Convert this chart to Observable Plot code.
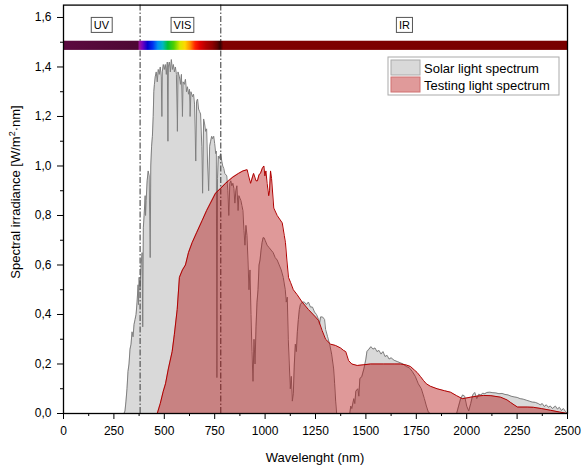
<!DOCTYPE html>
<html>
<head>
<meta charset="utf-8">
<script src="https://cdn.jsdelivr.net/npm/d3@7"></script>
<script src="https://cdn.jsdelivr.net/npm/@observablehq/plot@0.6"></script>
<style>
  html, body { margin: 0; padding: 0; background: #fff; }
  #chart { width: 584px; height: 470px; position: relative; }
</style>
</head>
<body>
<div id="chart"></div>
<script>
// ---- Data ----
const solarNm = [280,300,305,310,315,320,325,330,335,340,345,350,355,360,365,370,372,375,380,385,390,393,396,400,405,407,410,415,420,425,430,433,437,441,445,448,451,455,460,465,470,475,480,485,488,490,495,500,505,510,515,518,520,525,530,535,540,545,550,555,560,565,568,575,580,585,590,593,600,605,610,615,620,625,628,632,640,645,650,656,660,665,670,675,680,686,690,695,700,705,710,715,720,725,730,735,740,745,750,755,758,761,764,768,772,780,785,790,795,800,810,815,820,825,830,835,840,845,850,855,860,866,870,875,880,885,890,895,900,905,910,915,920,925,930,935,940,945,950,955,960,965,970,975,980,985,990,995,1000,1010,1020,1030,1040,1050,1060,1070,1080,1090,1100,1105,1110,1115,1120,1125,1130,1135,1140,1145,1150,1155,1160,1165,1170,1175,1185,1195,1205,1215,1225,1235,1245,1255,1265,1270,1275,1285,1295,1300,1310,1320,1330,1340,1345,1350,1355,1420,1425,1430,1440,1445,1450,1460,1465,1470,1480,1490,1500,1505,1515,1525,1535,1545,1555,1565,1575,1585,1595,1605,1615,1625,1640,1655,1670,1685,1700,1715,1730,1745,1760,1775,1790,1800,1810,1820,1950,1960,1970,1980,1990,2000,2010,2020,2030,2040,2050,2060,2070,2080,2090,2100,2115,2130,2145,2160,2175,2190,2205,2220,2235,2250,2265,2280,2295,2310,2325,2340,2355,2365,2375,2385,2395,2405,2415,2425,2440,2450,2460,2470,2480,2490,2500];
const solarVal = [0,0,0.01,0.05,0.1,0.17,0.2,0.26,0.28,0.33,0.31,0.36,0.38,0.4,0.45,0.52,0.44,0.55,0.5,0.6,0.65,0.35,0.75,0.8,0.88,0.8,0.86,0.94,0.98,0.96,0.63,1.0,1.08,1.12,1.2,1.3,1.33,1.36,1.38,1.34,1.39,1.37,1.40,1.36,1.2,1.38,1.41,1.39,1.41,1.37,1.42,1.10,1.40,1.42,1.38,1.43,1.39,1.41,1.38,1.40,1.37,1.14,1.38,1.36,1.33,1.37,1.2,1.34,1.33,1.35,1.30,1.32,1.29,1.31,1.2,1.30,1.28,1.29,1.25,1.02,1.26,1.27,1.23,1.22,1.21,1.08,0.89,1.19,1.17,1.14,1.15,1.0,0.9,1.08,1.10,1.12,1.11,1.12,1.09,1.05,1.06,0.145,0.95,1.04,1.03,1.05,1.02,1.0,0.99,0.97,0.96,0.9,0.8,0.93,0.94,0.92,0.93,0.91,0.85,0.9,0.92,0.82,0.88,0.87,0.86,0.84,0.82,0.74,0.68,0.76,0.72,0.62,0.5,0.58,0.4,0.25,0.13,0.3,0.2,0.35,0.45,0.5,0.6,0.62,0.66,0.69,0.71,0.71,0.70,0.68,0.67,0.66,0.65,0.63,0.62,0.60,0.58,0.55,0.5,0.45,0.47,0.3,0.2,0.1,0.15,0.05,0.08,0.2,0.28,0.25,0.33,0.38,0.42,0.44,0.45,0.45,0.44,0.45,0.43,0.43,0.41,0.40,0.38,0.36,0.39,0.39,0.38,0.34,0.31,0.28,0.24,0.18,0.12,0.05,0,0,0.03,0.02,0.06,0.04,0.09,0.1,0.07,0.14,0.15,0.18,0.22,0.25,0.26,0.27,0.26,0.265,0.25,0.255,0.24,0.25,0.23,0.235,0.22,0.225,0.215,0.21,0.205,0.2,0.19,0.185,0.17,0.15,0.12,0.1,0.06,0.03,0.005,0,0,0.03,0.06,0.075,0.07,0.03,0.01,0.04,0.075,0.085,0.06,0.078,0.075,0.082,0.08,0.085,0.086,0.084,0.083,0.08,0.081,0.077,0.075,0.07,0.067,0.065,0.06,0.058,0.054,0.05,0.046,0.045,0.04,0.035,0.04,0.028,0.035,0.025,0.03,0.02,0.03,0.018,0.025,0.012,0.02,0.008,0];

const testNm = [465,480,495,506,520,539,550,564,575,590,605,620,638,660,688,710,729,754,780,804,818,840,868,890,911,918,928,943,955,962,970,977,986,994,999,1004,1010,1018,1022,1027,1032,1043,1060,1085,1095,1101,1108,1116,1126,1140,1159,1184,1215,1250,1266,1283,1300,1325,1349,1374,1389,1400,1414,1430,1457,1490,1523,1588,1640,1672,1700,1721,1740,1754,1770,1786,1800,1820,1853,1890,1920,1950,1978,1994,2020,2050,2083,2120,2168,2200,2217,2235,2252,2300,2331,2370,2416,2460,2500];
const testVal = [0,0.04,0.09,0.12,0.18,0.25,0.32,0.42,0.55,0.58,0.6,0.65,0.69,0.73,0.78,0.82,0.85,0.89,0.91,0.93,0.94,0.955,0.97,0.98,0.985,0.96,0.93,0.97,0.94,0.94,0.965,0.97,0.99,1.0,0.96,0.98,0.93,0.88,0.9,0.98,0.95,0.83,0.8,0.77,0.72,0.69,0.62,0.55,0.53,0.5,0.48,0.45,0.42,0.39,0.375,0.335,0.3,0.28,0.275,0.265,0.255,0.25,0.214,0.2,0.194,0.197,0.2,0.2,0.2,0.2,0.196,0.19,0.176,0.166,0.15,0.133,0.12,0.11,0.1,0.092,0.086,0.072,0.06,0.062,0.066,0.07,0.073,0.072,0.066,0.055,0.045,0.035,0.026,0.026,0.025,0.02,0.013,0.006,0];

const xTicks = [0,250,500,750,1000,1250,1500,1750,2000,2250,2500];
const xMinorTicks = [125,375,625,875,1125,1375,1625,1875,2125,2375];
const yTicks = [0,0.2,0.4,0.6,0.8,1.0,1.2,1.4,1.6];
const yMinorTicks = [0.1,0.3,0.5,0.7,0.9,1.1,1.3,1.5];

const bandEdges = [380, 780];
const bandNames = ["UV", "VIS", "IR"];
const bandCenters = [188, 590, 1691];

const specStopNm = [0,370,380,395,420,445,470,495,520,550,580,605,630,655,680,710,740,765,780,795,2500];
const specStopColor = ["#5c0a40","#4e0834","#9a10a0","#7000c0","#0000cc","#0030f0","#0090f0","#00b8c0","#00c030","#50d000","#d8e800","#ffd800","#ff9000","#ff2000","#e00000","#b00000","#900000","#600000","#300000","#800000","#780000"];

const legendLabels = ["Solar light spectrum", "Testing light spectrum"];

// ---- Build tables ----
const solar = solarNm.map((nm, i) => ({nm, v: solarVal[i]}));
const testing = testNm.map((nm, i) => ({nm, v: testVal[i]}));
const bands = bandNames.map((name, i) => ({name, nm: bandCenters[i], y: 1.568}));
const fmt = d => d.toFixed(1).replace(".", ",");

const font = "'Liberation Sans', Arial, sans-serif";

const chart = Plot.plot({
  width: 584,
  height: 470,
  marginLeft: 63,
  marginRight: 17,
  marginTop: 4.6,
  marginBottom: 57,
  x: {domain: [0, 2500]},
  y: {domain: [0, 1.65]},
  style: {fontFamily: font, fontSize: "12px", color: "#000", background: "#fff"},
  marks: [
    Plot.areaY(solar, {x: "nm", y: "v", fill: "#d9d9d9", curve: "linear"}),
    Plot.lineY(solar, {x: "nm", y: "v", stroke: "#7f7f7f", strokeWidth: 1}),
    Plot.ruleX(bandEdges, {stroke: "#555", strokeWidth: 1.2, strokeDasharray: "6,2,1.5,2"}),
    Plot.areaY(testing, {x: "nm", y: "v", fill: "#b00000", fillOpacity: 0.4}),
    Plot.lineY(testing, {x: "nm", y: "v", stroke: "#b00000", strokeWidth: 1}),
    Plot.rect([{x1: 0, x2: 2500, y1: 1.467, y2: 1.504}], {x1: "x1", x2: "x2", y1: "y1", y2: "y2", fill: "url(#specgrad)"}),
    Plot.text(bands, {x: "nm", y: "y", text: "name", fontSize: 11}),
    Plot.frame({stroke: "#000", strokeWidth: 1.3}),
    Plot.axisX({ticks: xTicks, tickSize: 6, tickPadding: 7, tickFormat: d => String(d), label: null, fontSize: 12}),
    Plot.axisX({ticks: xMinorTicks, tickSize: 3, tickFormat: () => "", label: null}),
    Plot.axisY({ticks: yTicks, tickSize: 6, tickPadding: 6, tickFormat: fmt, label: null, fontSize: 12}),
    Plot.axisY({ticks: yMinorTicks, tickSize: 3, tickFormat: () => "", label: null})
  ]
});

document.getElementById("chart").appendChild(chart);
const svg = d3.select(chart);

// gradient for the spectrum bar
const defs = svg.insert("defs", ":first-child");
const grad = defs.append("linearGradient").attr("id", "specgrad")
  .attr("x1", "0").attr("x2", "1").attr("y1", "0").attr("y2", "0");
specStopNm.forEach((nm, i) => {
  grad.append("stop").attr("offset", nm / 2500).attr("stop-color", specStopColor[i]);
});

// boxes around band labels
const boxG = svg.append("g").attr("fill", "none").attr("stroke", "#555").attr("stroke-width", 1);
svg.selectAll("text").each(function() {
  const t = this.textContent;
  if (!bandNames.includes(t)) return;
  const b = this.getBBox();
  const m = this.getCTM();
  const sm = chart.getCTM();
  const dx = m && sm ? m.e - sm.e : 0;
  const dy = m && sm ? m.f - sm.f : 0;
  boxG.append("rect")
    .attr("x", b.x + dx - 2.5).attr("y", b.y + dy - 1.5)
    .attr("width", b.width + 5).attr("height", b.height + 3);
});

// axis titles
svg.append("text").attr("x", 315).attr("y", 462).attr("text-anchor", "middle")
  .attr("font-family", font).attr("font-size", 13).attr("fill", "#000")
  .text("Wavelenght (nm)");
const yt = svg.append("text").attr("transform", "translate(20,192) rotate(-90)")
  .attr("text-anchor", "middle").attr("font-family", font).attr("font-size", 13).attr("fill", "#000");
yt.append("tspan").text("Spectral irradiance [W/m");
yt.append("tspan").attr("dy", -5).attr("font-size", 9).text("2");
yt.append("tspan").attr("dy", 5).text("·nm]");

// legend (inside plot area, top right)
const lg = svg.append("g").attr("font-family", font).attr("font-size", 13).attr("text-anchor", "start");
lg.append("rect").attr("x", 388).attr("y", 57).attr("width", 171).attr("height", 38)
  .attr("fill", "#fff").attr("stroke", "#aaa").attr("stroke-width", 1);
const swFill = ["#d9d9d9", "#e09a9a"];
const swStroke = ["#aaa", "#d07070"];
legendLabels.forEach((lab, i) => {
  lg.append("rect").attr("x", 391).attr("y", 60 + i * 17).attr("width", 29).attr("height", 15)
    .attr("fill", swFill[i]).attr("stroke", swStroke[i]).attr("stroke-width", 1);
  lg.append("text").attr("x", 424).attr("y", 72.5 + i * 17).attr("fill", "#000")
    .attr("text-anchor", "start").text(lab);
});
</script>
</body>
</html>
